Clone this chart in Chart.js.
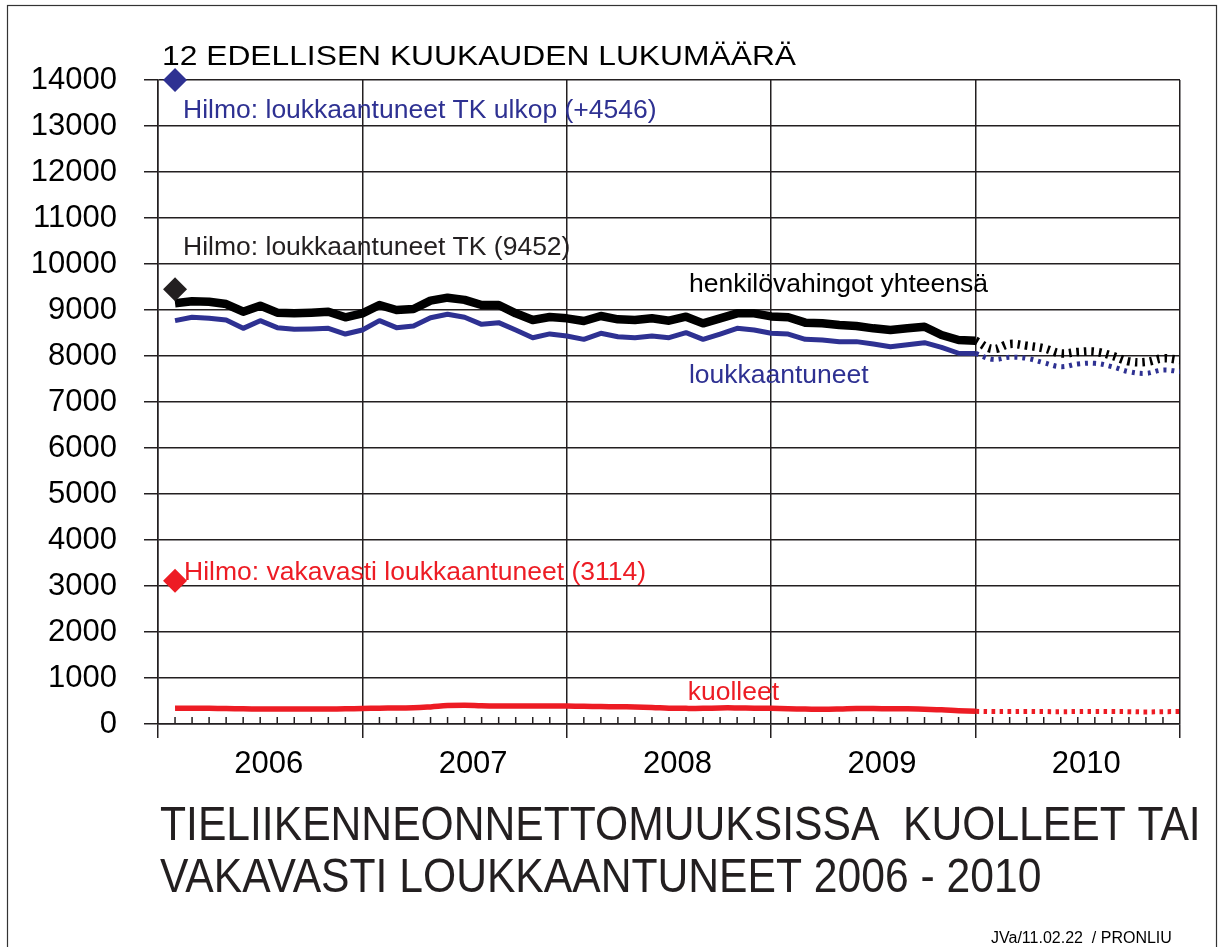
<!DOCTYPE html>
<html>
<head>
<meta charset="utf-8">
<script src="https://cdn.jsdelivr.net/npm/chart.js@4/dist/chart.umd.min.js"></script>
<style>
  html, body { margin: 0; padding: 0; background: #fff; }
  #wrap { width: 1218px; height: 947px; }
</style>
</head>
<body>
<div id="wrap"><canvas id="chart" width="1218" height="947"></canvas></div>
<script>
// 12 kk liukuva summa, kuukaudet 1/2006 ... 12/2010
const yearLabels = ['2006', '2007', '2008', '2009', '2010'];

const totalActual = [
  9145, 9190, 9180, 9130, 8963, 9094, 8942, 8928, 8942, 8963, 8841, 8928,
  9108, 9000, 9021, 9203, 9268, 9220, 9108, 9108, 8928, 8783, 8848, 8819,
  8761, 8870, 8797, 8783, 8819, 8768, 8855, 8710, 8819, 8928, 8928, 8860,
  8841, 8725, 8710, 8674, 8652, 8601, 8565, 8601, 8637, 8457, 8348, 8334
];
const totalForecast = [8152, 8261, 8225, 8167, 8058, 8087, 8094, 8007, 7884, 7870, 7949, 7913];

const injuredActual = [
  8768, 8841, 8819, 8783, 8601, 8768, 8616, 8580, 8587, 8601, 8478, 8565,
  8768, 8616, 8652, 8833, 8906, 8841, 8688, 8725, 8565, 8398, 8480, 8435,
  8362, 8493, 8420, 8398, 8435, 8398, 8507, 8362, 8478, 8601, 8565, 8493,
  8478, 8362, 8348, 8312, 8312, 8261, 8203, 8246, 8290, 8188, 8060, 8055
];
const injuredForecast = [7928, 7971, 7949, 7855, 7768, 7826, 7841, 7768, 7659, 7623, 7696, 7659];

const deathsActual = [
  341, 345, 340, 335, 330, 328, 326, 326, 326, 328, 330, 336,
  345, 350, 352, 372, 400, 410, 398, 392, 390, 390, 392, 390,
  385, 380, 375, 370, 360, 345, 340, 340, 350, 350, 345, 340,
  330, 325, 320, 325, 335, 335, 330, 330, 320, 310, 290, 275
];
const deathsForecast = [270, 270, 272, 270, 268, 270, 272, 270, 268, 262, 268, 270];

// Hilmo-vertailuluvut
const hilmoInjured = 9452;
const hilmoOutside = 4546;
const hilmoSerious = 3114;

const yMax = 14000;
const yStep = 1000;

const BLACK = '#000000';
const BLUE = '#2e3192';
const RED = '#ed1c24';
const GRID = '#231f20';
const FONT = '"Liberation Sans", Arial, Helvetica, sans-serif';

const actual = arr => arr.map((v, i) => ({ x: i + 1, y: v }));
const forecast = (act, arr) => [{ x: act.length, y: act[act.length - 1] }]
  .concat(arr.map((v, i) => ({ x: act.length + 1 + i, y: v })));

// tekstit datakoordinaateissa (x = kuukausi, y = lukumäärä)
const notes = [
  { text: 'Hilmo: loukkaantuneet TK ulkop (+4546)', x: 1.47, y: 13174, color: BLUE },
  { text: 'Hilmo: loukkaantuneet TK (9452)', x: 1.47, y: 10196, color: '#231f20' },
  { text: 'henkilövahingot yhteensä', x: 31.17, y: 9391, color: BLACK },
  { text: 'loukkaantuneet', x: 31.17, y: 7413, color: BLUE },
  { text: 'Hilmo: vakavasti loukkaantuneet (3114)', x: 1.53, y: 3130, color: RED },
  { text: 'kuolleet', x: 31.1, y: 511, color: RED },
];

function drawText(ctx, str, x, y, size, color, sx = 1) {
  ctx.save();
  ctx.translate(x, y);
  ctx.scale(sx, 1);
  ctx.font = `${size}px ${FONT}`;
  ctx.fillStyle = color;
  ctx.textAlign = 'left';
  ctx.textBaseline = 'alphabetic';
  ctx.fillText(str, 0, 0);
  ctx.restore();
}

const decorPlugin = {
  id: 'decor',
  afterDatasetsDraw(chart) {
    const { ctx, chartArea: a, scales: { x, y } } = chart;

    // kuukausiviivat x-akselin sisäpuolelle
    ctx.save();
    ctx.strokeStyle = GRID;
    ctx.lineWidth = 1.5;
    for (let m = 1; m < 60; m++) {
      if (m % 12 === 0) continue;
      const px = x.getPixelForValue(m);
      ctx.beginPath();
      ctx.moveTo(px, a.bottom);
      ctx.lineTo(px, a.bottom - 7);
      ctx.stroke();
    }
    ctx.restore();

    notes.forEach(n => drawText(ctx, n.text, x.getPixelForValue(n.x), y.getPixelForValue(n.y), 26.5, n.color));
  },
  afterDraw(chart) {
    const { ctx, chartArea: a } = chart;
    drawText(ctx, '12 EDELLISEN KUUKAUDEN LUKUMÄÄRÄ', a.left + 4, a.top - 15, 28, BLACK, 1.135);
    drawText(ctx, 'TIELIIKENNEONNETTOMUUKSISSA  KUOLLEET TAI', a.left + 2, 840, 49, '#231f20', 0.87);
    drawText(ctx, 'VAKAVASTI LOUKKAANTUNEET 2006 - 2010', a.left + 2, 892, 49, '#231f20', 0.87);
    drawText(ctx, 'JVa/11.02.22  / PRONLIU', 991, 943, 16, BLACK);

    ctx.save();
    ctx.strokeStyle = '#333';
    ctx.lineWidth = 1.2;
    ctx.strokeRect(7.5, 5.5, 1209, 960);
    ctx.restore();
  }
};

const diamond = (val, color) => ({
  data: [{ x: 1, y: val }],
  showLine: false,
  clip: false,
  pointStyle: 'rectRot',
  pointRadius: 12,
  pointHoverRadius: 12,
  backgroundColor: color,
  borderColor: color,
  borderWidth: 0,
  order: 0,
});

const solid = (data, color, width, tension) => ({
  data, borderColor: color, borderWidth: width, pointRadius: 0,
  tension, borderJoinStyle: 'round', borderCapStyle: 'butt', fill: false, order: 1,
});
const dotted = (data, color, width, dash) => ({
  data, borderColor: color, borderWidth: width, pointRadius: 0,
  tension: 0.4, borderDash: dash, borderCapStyle: 'butt', fill: false, order: 1,
});

new Chart(document.getElementById('chart'), {
  type: 'line',
  data: {
    datasets: [
      solid(actual(deathsActual), RED, 5.5, 0.4),
      dotted(forecast(deathsActual, deathsForecast), RED, 5, [3.5, 4.5]),
      solid(actual(injuredActual), BLUE, 5, 0),
      dotted(forecast(injuredActual, injuredForecast), BLUE, 5, [3, 5]),
      solid(actual(totalActual), BLACK, 8.5, 0),
      dotted(forecast(totalActual, totalForecast), BLACK, 8.5, [2.5, 5]),
      diamond(hilmoInjured + hilmoOutside, BLUE),
      diamond(hilmoInjured, '#231f20'),
      diamond(hilmoSerious, RED),
    ],
  },
  options: {
    responsive: false,
    animation: false,
    devicePixelRatio: 1,
    layout: { padding: { top: 80, right: 38, bottom: 163, left: 0 } },
    plugins: { legend: { display: false }, tooltip: { enabled: false }, title: { display: false } },
    scales: {
      x: {
        type: 'linear', min: 0, max: 60,
        afterBuildTicks: s => {
          const t = [];
          for (let k = 0; k <= 60; k += 12) { t.push({ value: k }); if (k < 60) t.push({ value: k + 6.5 }); }
          s.ticks = t;
        },
        afterFit: s => { s.height = 60; },
        grid: {
          color: c => (c.tick && c.tick.value % 12 === 0) ? GRID : 'rgba(0,0,0,0)',
          lineWidth: 1.5, tickLength: 14, drawTicks: true,
        },
        border: { display: true, color: GRID, width: 1.5 },
        ticks: {
          autoSkip: false, maxRotation: 0, padding: 8, color: BLACK,
          font: { family: FONT, size: 31 },
          callback: v => { const k = (v - 6.5) / 12; return Number.isInteger(k) ? yearLabels[k] : ''; },
        },
      },
      y: {
        min: 0, max: yMax,
        afterFit: s => { s.width = 158; },
        grid: { color: GRID, lineWidth: 1.5, tickLength: 14 },
        border: { display: true, color: GRID, width: 1.5 },
        ticks: {
          stepSize: yStep, padding: 27, color: BLACK,
          font: { family: FONT, size: 31 },
          callback: v => String(v),
        },
      },
    },
  },
  plugins: [decorPlugin],
});
</script>
</body>
</html>
